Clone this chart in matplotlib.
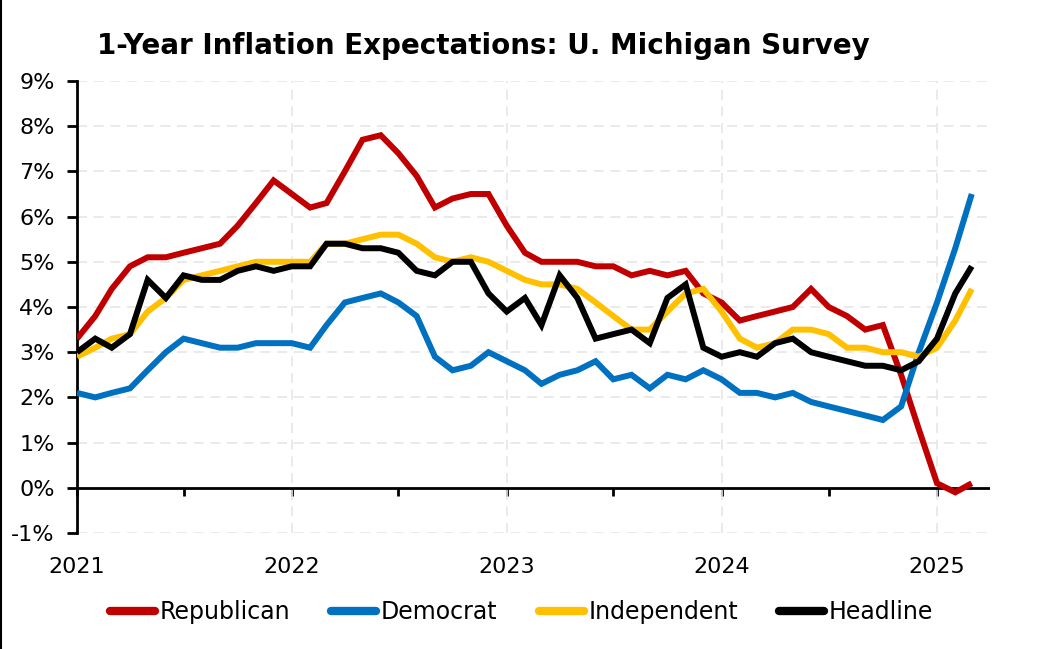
import matplotlib
matplotlib.use("Agg")
import matplotlib.pyplot as plt
import matplotlib.ticker as mticker
from matplotlib.lines import Line2D
import pandas as pd

plt.rcParams['font.family'] = ['DejaVu Sans']

dates = pd.date_range("2021-01-01", "2025-03-01", freq="MS")

republican = [3.3, 3.8, 4.4, 4.9, 5.1, 5.1, 5.2, 5.3, 5.4, 5.8,
              6.3, 6.8, 6.5, 6.2, 6.3, 7.0, 7.7, 7.8, 7.4, 6.9,
              6.2, 6.4, 6.5, 6.5, 5.8, 5.2, 5.0, 5.0, 5.0, 4.9,
              4.9, 4.7, 4.8, 4.7, 4.8, 4.3, 4.1, 3.7, 3.8, 3.9,
              4.0, 4.4, 4.0, 3.8, 3.5, 3.6, 2.5, 1.3, 0.1, -0.1, 0.1]
democrat = [2.1, 2.0, 2.1, 2.2, 2.6, 3.0, 3.3, 3.2, 3.1, 3.1,
            3.2, 3.2, 3.2, 3.1, 3.6, 4.1, 4.2, 4.3, 4.1, 3.8,
            2.9, 2.6, 2.7, 3.0, 2.8, 2.6, 2.3, 2.5, 2.6, 2.8,
            2.4, 2.5, 2.2, 2.5, 2.4, 2.6, 2.4, 2.1, 2.1, 2.0,
            2.1, 1.9, 1.8, 1.7, 1.6, 1.5, 1.8, 3.0, 4.1, 5.3, 6.5]
independent = [2.9, 3.1, 3.3, 3.4, 3.9, 4.2, 4.6, 4.7, 4.8, 4.9,
               5.0, 5.0, 5.0, 5.0, 5.4, 5.4, 5.5, 5.6, 5.6, 5.4,
               5.1, 5.0, 5.1, 5.0, 4.8, 4.6, 4.5, 4.5, 4.4, 4.1,
               3.8, 3.5, 3.5, 3.9, 4.3, 4.4, 3.9, 3.3, 3.1, 3.2,
               3.5, 3.5, 3.4, 3.1, 3.1, 3.0, 3.0, 2.9, 3.1, 3.7, 4.4]
headline = [3.0, 3.3, 3.1, 3.4, 4.6, 4.2, 4.7, 4.6, 4.6, 4.8,
            4.9, 4.8, 4.9, 4.9, 5.4, 5.4, 5.3, 5.3, 5.2, 4.8,
            4.7, 5.0, 5.0, 4.3, 3.9, 4.2, 3.6, 4.7, 4.2, 3.3,
            3.4, 3.5, 3.2, 4.2, 4.5, 3.1, 2.9, 3.0, 2.9, 3.2,
            3.3, 3.0, 2.9, 2.8, 2.7, 2.7, 2.6, 2.8, 3.3, 4.3, 4.9]

series_names = ["Republican", "Democrat", "Independent", "Headline"]
series_colors = ["#C00000", "#0070C0", "#FFC000", "#000000"]
title = "1-Year Inflation Expectations: U. Michigan Survey"
y_ticks = list(range(-1, 10))
year_ticks = pd.to_datetime(["2021-01-01", "2022-01-01", "2023-01-01", "2024-01-01", "2025-01-01"])
year_labels = ["2021", "2022", "2023", "2024", "2025"]

fig = plt.figure(figsize=(10.43, 6.49), dpi=100)
ax = fig.add_axes([77/1043, 1-533/649, (990-77)/1043, (533-81)/649])

for vals, name, col in zip([republican, democrat, independent, headline], series_names, series_colors):
    ax.plot(dates, vals, color=col, lw=4.3, label=name, solid_joinstyle='miter',
            solid_capstyle='butt', zorder=3)

ax.set_xlim(pd.Timestamp("2021-01-01"), pd.Timestamp("2025-04-01"))
ax.set_ylim(-1, 9)
ax.set_yticks(y_ticks)
ax.yaxis.set_major_formatter(mticker.FuncFormatter(lambda v, p: f"{int(round(v))}%"))

ax.set_xticks(year_ticks)
ax.set_xticklabels(year_labels)
ax.tick_params(axis='x', length=0, labelsize=16, pad=17)
ax.tick_params(axis='y', direction='out', length=7, width=2, labelsize=16, pad=9)

for s in ['top', 'right', 'bottom']:
    ax.spines[s].set_visible(False)
ax.spines['left'].set_linewidth(2)

ax.grid(axis='both', color='#e6e6e6', ls=(0, (6, 4)), lw=1.2, zorder=0.5)
ax.set_axisbelow(True)

# zero axis line with half-year tick marks
ax.axhline(0, color='black', lw=2, zorder=2)
sec = ax.secondary_xaxis(0.1)
sec.set_xticks(pd.date_range("2021-01-01", "2025-01-01", freq="6MS"))
sec.tick_params(axis='x', direction='out', length=6, width=2, labelbottom=False)
sec.spines['bottom'].set_visible(False)

fig.text(97/1043, 1-46/649, title, fontsize=20, fontweight='bold', ha='left', va='center')

leg = fig.legend(loc='center', bbox_to_anchor=(0.5, 1-612/649), ncol=4, frameon=False,
                 fontsize=17, handlelength=1.9, handletextpad=0.2, columnspacing=1.75)
for h in leg.get_lines():
    h.set_linewidth(6)
    h.set_solid_capstyle('round')

fig.add_artist(Line2D([0.0008, 0.0008], [0, 1], color='black', lw=1.5, transform=fig.transFigure))

fig.savefig("out.png", dpi=100)
